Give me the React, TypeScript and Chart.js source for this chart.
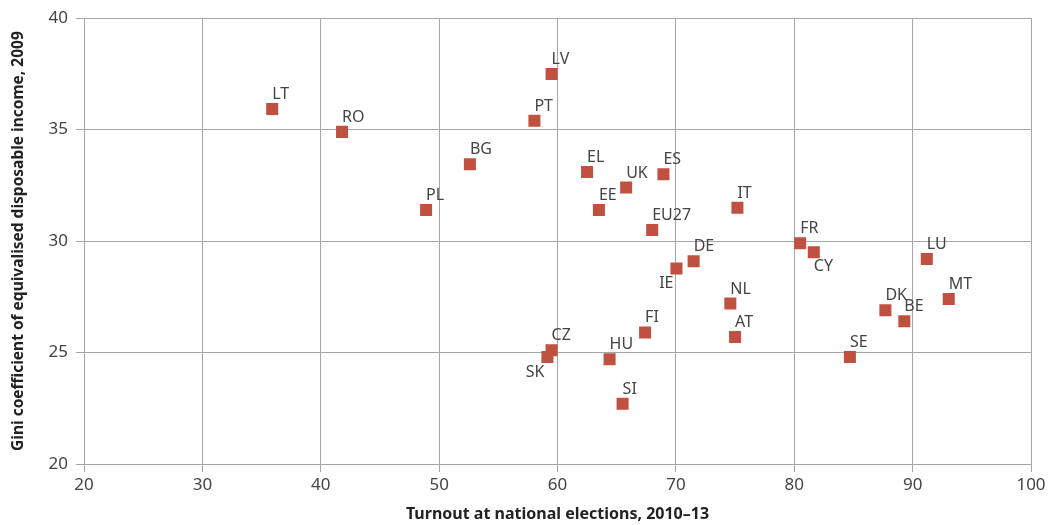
import React, { useEffect, useRef } from "react";
import { Chart, registerables } from "chart.js";

Chart.register(...registerables);

const countries = ["LT","RO","PL","BG","LV","PT","EL","EE","UK","ES","EU27","IT","DE","IE","FR","CY","LU","MT","DK","BE","SE","NL","AT","FI","CZ","SK","HU","SI"];
const turnout = [35.9,41.8,48.9,52.6,59.5,58.05,62.5,63.5,65.8,68.95,68.0,75.2,71.5,70.05,80.5,81.65,91.2,93.05,87.7,89.3,84.7,74.6,75.0,67.4,59.5,59.15,64.4,65.5];
const gini = [35.93,34.9,31.4,33.45,37.5,35.4,33.1,31.4,32.4,33.0,30.5,31.5,29.1,28.77,29.9,29.5,29.2,27.4,26.9,26.4,24.8,27.2,25.7,25.9,25.1,24.8,24.7,22.7];
const xTicks = [20,30,40,50,60,70,80,90,100];
const yTicks = [20,25,30,35,40];

// label placement per country (default: above-right)
const labelPlacement: Record<string, string> = { CY: "below-right", IE: "below-left", SK: "below-left" };

const FONT = "'Noto Sans', 'Open Sans', sans-serif";

export default function App() {
  const ref = useRef<HTMLCanvasElement | null>(null);
  useEffect(() => {
    if (!ref.current) return;
    const labelPlugin = {
      id: "pointLabels",
      afterDatasetsDraw(chart: any) {
        const ctx = chart.ctx;
        const meta = chart.getDatasetMeta(0);
        ctx.save();
        ctx.font = `16px ${FONT}`;
        ctx.fillStyle = "#444444";
        meta.data.forEach((pt: any, i: number) => {
          const code = countries[i];
          const place = labelPlacement[code] || "above-right";
          let x = pt.x, y = pt.y;
          if (place === "above-right") {
            ctx.textAlign = "left"; ctx.textBaseline = "alphabetic";
            x = pt.x; y = pt.y - 10;
          } else if (place === "below-right") {
            ctx.textAlign = "left"; ctx.textBaseline = "top";
            x = pt.x; y = pt.y + 6;
          } else if (place === "below-left") {
            ctx.textAlign = "right"; ctx.textBaseline = "top";
            x = pt.x - 3; y = pt.y + 7;
          }
          ctx.fillText(code, x, y);
        });
        ctx.restore();
      },
    };
    const chart = new Chart(ref.current, {
      type: "scatter",
      data: {
        datasets: [
          {
            data: turnout.map((t, i) => ({ x: t, y: gini[i] })),
            backgroundColor: "#c0503f",
            borderColor: "#c0503f",
            pointStyle: "rect",
            pointRadius: 8.5,
            borderWidth: 0,
          },
        ],
      },
      options: {
        animation: false,
        responsive: true,
        maintainAspectRatio: false,
        layout: { padding: { top: 14, right: 25, left: 0, bottom: 0 } },
        plugins: { legend: { display: false }, tooltip: { enabled: false } },
        scales: {
          x: {
            type: "linear",
            min: 20,
            max: 100,
            afterBuildTicks: (s: any) => { s.ticks = xTicks.map((v) => ({ value: v })); },
            afterFit: (s: any) => { s.height = 61; },
            ticks: { color: "#444444", font: { family: FONT, size: 17 }, padding: 3 },
            grid: { color: "#a6a6a6", lineWidth: 1, tickLength: 8, drawTicks: true },
            border: { color: "#a6a6a6" },
            title: {
              display: true,
              text: "Turnout at national elections, 2010–13",
              color: "#222222",
              font: { family: FONT, size: 16, weight: "bold" },
              padding: { top: 0, bottom: 1 },
            },
          },
          y: {
            type: "linear",
            min: 20,
            max: 40,
            afterBuildTicks: (s: any) => { s.ticks = yTicks.map((v) => ({ value: v })); },
            afterFit: (s: any) => { s.width = 84; },
            ticks: { color: "#444444", font: { family: FONT, size: 17 }, padding: 8 },
            grid: { color: "#a6a6a6", lineWidth: 1, tickLength: 8, drawTicks: true },
            border: { color: "#a6a6a6" },
            title: {
              display: true,
              text: "Gini coefficient of equivalised disposable income, 2009",
              color: "#222222",
              font: { family: FONT, size: 15.5, weight: "bold" },
              padding: { top: 9, bottom: 0 },
            },
          },
        },
      },
      plugins: [labelPlugin],
    });
    return () => chart.destroy();
  }, []);
  return (
    <div style={{ position: "fixed", left: 0, top: 0, width: 1056, height: 525, background: "#fff" }}>
      <canvas ref={ref} />
    </div>
  );
}
